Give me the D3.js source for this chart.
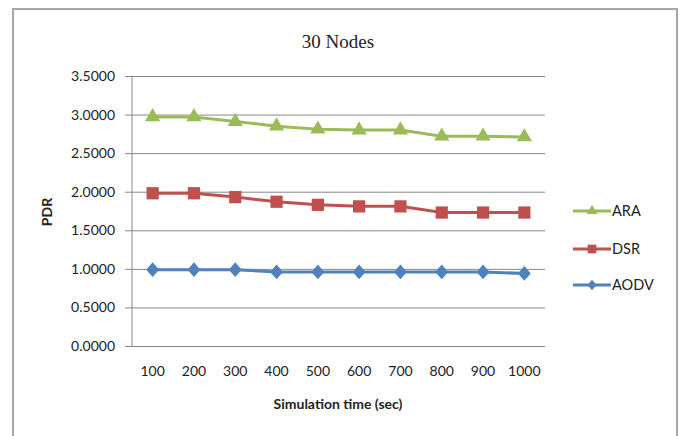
<!DOCTYPE html>
<html>
<head>
<meta charset="utf-8">
<script src="https://cdn.jsdelivr.net/npm/d3@7"></script>
<style>
  body { margin: 0; background: #fff; }
  svg text { font-family: Lato, "Open Sans", sans-serif; fill: #222; }
</style>
</head>
<body>
<svg id="chart" width="681" height="436"></svg>
<script>
// categories and series
var times = ["100", "200", "300", "400", "500", "600", "700", "800", "900", "1000"];
var ara  = [2.97, 2.97, 2.91, 2.85, 2.81, 2.80, 2.80, 2.72, 2.72, 2.71];
var dsr  = [1.98, 1.98, 1.93, 1.87, 1.83, 1.81, 1.81, 1.73, 1.73, 1.73];
var aodv = [0.99, 0.99, 0.99, 0.96, 0.96, 0.96, 0.96, 0.96, 0.96, 0.94];
var yTicks = [0, 0.5, 1, 1.5, 2, 2.5, 3, 3.5];

var series = [
    { name: "ARA", values: ara, color: "#9bbb59", symbol: d3.symbolTriangle, size: 100, sy: 1 },
    { name: "DSR", values: dsr, color: "#c0504d", symbol: d3.symbolSquare, size: 150, sy: 1 },
    { name: "AODV", values: aodv, color: "#4f81bd", symbol: d3.symbolDiamond2, size: 105, sy: 1.15 }
];

var svg = d3.select("#chart");

// outer frame
svg.append("rect")
    .attr("x", 13).attr("y", 9)
    .attr("width", 664).attr("height", 440)
    .attr("fill", "none")
    .attr("stroke", "#a6a6a6")
    .attr("stroke-width", 2);

var margin = { top: 76, left: 132 },
    width = 545 - 132,
    height = 346 - 76;

var g = svg.append("g")
    .attr("transform", "translate(" + margin.left + "," + margin.top + ")");

var x = d3.scaleBand()
    .domain(times)
    .range([0, width]);

var y = d3.scaleLinear()
    .domain([0, 3.5])
    .range([height, 0]);

// gridlines + y axis
var yAxis = g.append("g")
    .call(d3.axisLeft(y).tickValues(yTicks).tickSize(7).tickPadding(10)
        .tickFormat(d3.format(".4f")));
yAxis.select(".domain").attr("stroke", "#888").attr("d", "M0,0V" + height);
yAxis.selectAll(".tick line").attr("stroke", "#888");
yAxis.selectAll(".tick text")
    .attr("font-size", "14px")
    .attr("font-family", "Lato, sans-serif");
yAxis.selectAll(".tick")
    .append("line")
    .attr("x1", 0).attr("x2", width)
    .attr("stroke", "#888");

// x axis
var xAxis = g.append("g")
    .attr("transform", "translate(0," + height + ")")
    .call(d3.axisBottom(x).tickSize(0).tickPadding(20));
xAxis.select(".domain").remove();
xAxis.selectAll(".tick text")
    .attr("font-size", "14px")
    .attr("font-family", "Lato, sans-serif");

// lines and markers
var line = d3.line()
    .x(function (d, i) { return x(times[i]) + x.bandwidth() / 2; })
    .y(function (d) { return y(d); });

series.forEach(function (s) {
    g.append("path")
        .datum(s.values)
        .attr("fill", "none")
        .attr("stroke", s.color)
        .attr("stroke-width", 3)
        .attr("d", line);
    g.selectAll(null)
        .data(s.values)
        .enter()
        .append("path")
        .attr("d", d3.symbol().type(s.symbol).size(s.size))
        .attr("fill", s.color)
        .attr("transform", function (d, i) {
            return "translate(" + (x(times[i]) + x.bandwidth() / 2) + "," + y(d) + ") scale(1," + s.sy + ")";
        });
});

// title
svg.append("text")
    .attr("x", 338).attr("y", 48)
    .attr("text-anchor", "middle")
    .style("font-family", "'Liberation Serif', serif")
    .style("font-size", "19px")
    .text("30 Nodes");

// axis titles
svg.append("text")
    .attr("x", 338).attr("y", 409)
    .attr("text-anchor", "middle")
    .style("font-size", "14px")
    .style("font-weight", "bold")
    .text("Simulation time (sec)");

svg.append("text")
    .attr("transform", "translate(52,212) rotate(-90)")
    .attr("text-anchor", "middle")
    .style("font-size", "14px")
    .style("font-weight", "bold")
    .text("PDR");

// legend
var legend = svg.append("g");
var legendY = [211, 249, 285];
series.forEach(function (s, i) {
    var row = legend.append("g")
        .attr("transform", "translate(573," + legendY[i] + ")");
    row.append("line")
        .attr("x1", 0).attr("x2", 38)
        .attr("stroke", s.color)
        .attr("stroke-width", 3);
    row.append("path")
        .attr("d", d3.symbol().type(s.symbol).size(s.size * 0.5))
        .attr("fill", s.color)
        .attr("transform", "translate(19,0) scale(1," + s.sy + ")");
    row.append("text")
        .attr("x", 39).attr("dy", "0.35em")
        .style("font-size", "14.5px")
        .text(s.name);
});
</script>
</body>
</html>
